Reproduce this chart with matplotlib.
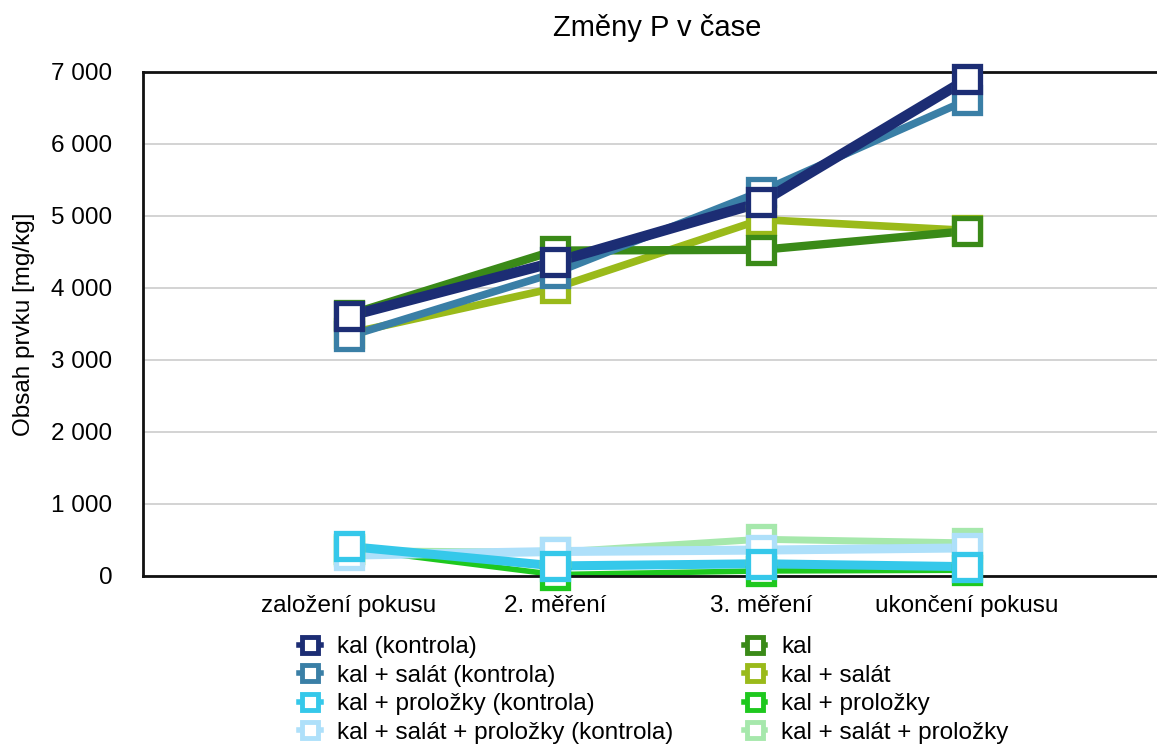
import matplotlib
matplotlib.use("Agg")
import matplotlib.pyplot as plt
from matplotlib.lines import Line2D
from matplotlib.ticker import FuncFormatter

plt.rcParams['font.family'] = ['Liberation Sans', 'DejaVu Sans']

# categories on the x axis
categories = ['založení pokusu', '2. měření', '3. měření', 'ukončení pokusu']

# series, in legend order
labels = [
    'kal (kontrola)',
    'kal + salát (kontrola)',
    'kal + proložky (kontrola)',
    'kal + salát + proložky (kontrola)',
    'kal',
    'kal + salát',
    'kal + proložky',
    'kal + salát + proložky',
]
kal_kontrola = [3610, 4360, 5190, 6900]
kal_salat_kontrola = [3330, 4210, 5340, 6610]
kal_prolozky_kontrola = [410, 140, 170, 130]
kal_salat_prolozky_kontrola = [290, 340, 360, 390]
kal = [3630, 4520, 4530, 4790]
kal_salat = [3370, 4000, 4950, 4800]
kal_prolozky = [380, 20, 70, 80]
kal_salat_prolozky = [350, 330, 510, 460]

series = [kal_kontrola, kal_salat_kontrola, kal_prolozky_kontrola,
          kal_salat_prolozky_kontrola, kal, kal_salat, kal_prolozky,
          kal_salat_prolozky]
colors = ['#1c2d74', '#3a7fa6', '#35c8ea', '#aee0fa',
          '#3a8a18', '#9aba1a', '#1ec81e', '#a6e8ac']
widths = [7.5, 5.5, 6.5, 6.5, 6, 5.5, 4, 5]

FS = 17.5

fig = plt.figure(figsize=(11.57, 7.45), dpi=100)
ax = fig.add_axes([143 / 1157, (745 - 576) / 745, (1173 - 143) / 1157, (576 - 72) / 745])

x = list(range(1, len(categories) + 1))
n = len(series)
for i, (vals, c, lw) in enumerate(zip(series, colors, widths)):
    zl = 2 + (n - i) * 0.1
    zm = 5 + (n - i) * 0.1
    ax.plot(x, vals, color=c, lw=lw, solid_joinstyle='miter', zorder=zl, clip_on=False)
    ax.plot(x, vals, ls='none', marker='s', ms=19, mew=3.8, mfc='white', mec=c,
            zorder=zm, clip_on=False)

ax.set_xlim(0, 5)
ax.set_ylim(0, 7000)
ax.set_xticks(x)
ax.set_xticklabels(categories, fontsize=FS)
ax.set_yticks(range(0, 7001, 1000))
ax.yaxis.set_major_formatter(FuncFormatter(lambda v, p: f"{int(v):,}".replace(',', ' ')))
ax.tick_params(axis='y', labelsize=FS, length=0, pad=22)
ax.tick_params(axis='x', length=0, pad=14)
ax.grid(axis='y', color='#cccccc', lw=1.2)
ax.set_axisbelow(True)

for s in ['left', 'top', 'bottom']:
    ax.spines[s].set_linewidth(2)
    ax.spines[s].set_color('#111111')
ax.spines['right'].set_visible(False)

ax.set_ylabel('Obsah prvku [mg/kg]', fontsize=FS, labelpad=12)
fig.text(657 / 1157, 1 - 28 / 745, 'Změny P v čase', fontsize=21, ha='center', va='center')

handles = [Line2D([0], [0], color=c, lw=4, marker='s', ms=11, mew=3.5, mfc='white', mec=c)
           for c in colors]
fig.legend(handles, labels, loc='upper left', bbox_to_anchor=(287 / 1157, 1 - 624 / 745),
           ncol=2, frameon=False, fontsize=FS, handlelength=0.9, handletextpad=0.65,
           columnspacing=2.9, labelspacing=0.27, borderpad=0)

fig.savefig('out.png', dpi=100)
